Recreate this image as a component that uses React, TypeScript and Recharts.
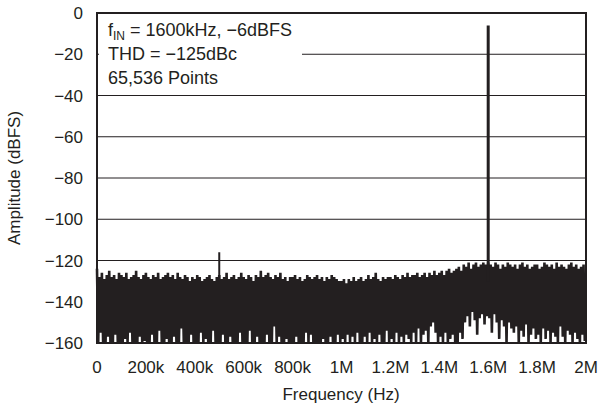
import React from "react";
import {
  CartesianGrid,
  ComposedChart,
  Line,
  ReferenceArea,
  XAxis,
  YAxis,
} from "recharts";

// FFT noise floor, one bin per 10kHz (top of each bin, then the dip within it)
const binStep = 10000;

const noiseTops = [
  -124, -128, -126, -129, -127, -125, -128, -127, -129, -126,
  -127, -128, -126, -129, -128, -127, -125, -128, -129, -127,
  -126, -128, -129, -127, -128, -126, -129, -128, -127, -126,
  -128, -127, -129, -126, -128, -129, -127, -128, -130, -128,
  -129, -127, -128, -130, -129, -128, -127, -129, -130, -128,
  -127, -129, -128, -126, -129, -128, -127, -129, -128, -126,
  -128, -129, -127, -128, -130, -127, -128, -125, -128, -127,
  -126, -128, -129, -127, -128, -126, -129, -128, -130, -128,
  -128, -127, -129, -128, -130, -129, -127, -128, -129, -128,
  -127, -129, -128, -130, -128, -129, -127, -128, -129, -130,
  -130, -129, -131, -129, -130, -128, -130, -129, -128, -130,
  -129, -127, -129, -128, -126, -129, -130, -128, -129, -128,
  -128, -129, -127, -128, -129, -127, -128, -126, -128, -127,
  -127, -126, -128, -127, -126, -128, -126, -127, -125, -127,
  -126, -125, -127, -125, -124, -126, -125, -124, -123, -125,
  -122, -123, -121, -124, -122, -121, -123, -122, -121, -122,
  -121, -122, -123, -121, -122, -124, -122, -123, -121, -122,
  -123, -122, -124, -122, -121, -123, -122, -124, -123, -122,
  -122, -124, -123, -121, -122, -123, -122, -124, -121, -123,
  -122, -123, -124, -122, -121, -123, -122, -124, -123, -122,
];

const noiseDips = [
  -160, -155, -160, -160, -157, -160, -160, -156, -160, -160,
  -160, -158, -160, -155, -160, -160, -160, -157, -160, -159,
  -160, -160, -156, -160, -160, -154, -160, -160, -158, -160,
  -160, -157, -160, -160, -153, -160, -160, -160, -156, -160,
  -160, -160, -155, -160, -158, -160, -160, -154, -160, -160,
  -160, -156, -160, -160, -157, -160, -160, -160, -155, -160,
  -160, -160, -154, -160, -160, -157, -160, -160, -160, -156,
  -160, -160, -152, -160, -157, -160, -160, -158, -160, -160,
  -160, -157, -160, -160, -160, -155, -160, -156, -160, -160,
  -160, -160, -158, -160, -160, -157, -160, -160, -156, -160,
  -158, -160, -156, -160, -157, -160, -155, -160, -160, -157,
  -160, -155, -160, -158, -160, -156, -160, -160, -154, -160,
  -158, -160, -155, -160, -157, -160, -156, -158, -160, -155,
  -160, -153, -160, -156, -154, -160, -152, -150, -155, -160,
  -157, -160, -155, -160, -158, -156, -160, -160, -155, -158,
  -150, -147, -152, -145, -149, -156, -148, -146, -151, -147,
  -148, -155, -146, -150, -158, -149, -152, -160, -150, -153,
  -155, -152, -160, -154, -157, -151, -160, -156, -153, -158,
  -156, -160, -153, -158, -154, -160, -155, -157, -160, -152,
  -157, -160, -154, -156, -160, -155, -158, -160, -156, -159,
];

// fundamental and the one visible spur
const fundamental = { f: 1600000, amp: -6 };
const spur = { f: 500000, amp: -116 };

const xTicks = [0, 200000, 400000, 600000, 800000, 1000000, 1200000, 1400000, 1600000, 1800000, 2000000];
const xTickLabels = ["0", "200k", "400k", "600k", "800k", "1M", "1.2M", "1.4M", "1.6M", "1.8M", "2M"];
const yTicks = [0, -20, -40, -60, -80, -100, -120, -140, -160];
const yTickLabels = ["0", "\u221220", "\u221240", "\u221260", "\u221280", "\u2212100", "\u2212120", "\u2212140", "\u2212160"];

const noise: { f: number; amp: number }[] = [];
noiseTops.forEach((top, i) => {
  noise.push({ f: i * binStep, amp: top });
  noise.push({ f: i * binStep + binStep / 2, amp: noiseDips[i] });
});

const ink = "#231f20";
const font = "'Liberation Sans', Arial, sans-serif";
const fs = 17;

export default function App() {
  return (
    <div
      style={{
        position: "absolute",
        left: 0,
        top: 0,
        width: 602,
        height: 414,
        background: "#fff",
        fontFamily: font,
        color: ink,
      }}
    >
      <ComposedChart
        width={602}
        height={414}
        margin={{ top: 13, right: 16, bottom: 0, left: 0 }}
      >
        <CartesianGrid vertical={false} stroke={ink} strokeWidth={1} />
        <XAxis
          type="number"
          dataKey="f"
          domain={[0, 2000000]}
          ticks={xTicks}
          tickFormatter={(v) => xTickLabels[xTicks.indexOf(v)] ?? ""}
          height={71}
          tickLine={false}
          axisLine={false}
          tickSize={0}
          tickMargin={18}
          tick={{ fill: ink, fontSize: fs, fontFamily: font }}
          interval={0}
        />
        <YAxis
          type="number"
          domain={[-160, 0]}
          ticks={yTicks}
          tickFormatter={(v) => yTickLabels[yTicks.indexOf(v)] ?? ""}
          width={97}
          tickLine={false}
          axisLine={false}
          tickSize={0}
          tickMargin={14}
          tick={{ fill: ink, fontSize: fs, fontFamily: font }}
          interval={0}
        />
        <Line
          data={noise}
          dataKey="amp"
          stroke={ink}
          strokeWidth={2.6}
          strokeLinejoin="bevel"
          dot={false}
          isAnimationActive={false}
        />
        <Line
          data={[{ f: spur.f, amp: -130 }, spur]}
          dataKey="amp"
          stroke={ink}
          strokeWidth={2}
          dot={false}
          isAnimationActive={false}
        />
        <Line
          data={[{ f: fundamental.f, amp: -130 }, fundamental]}
          dataKey="amp"
          stroke={ink}
          strokeWidth={3}
          dot={false}
          isAnimationActive={false}
        />
        <ReferenceArea
          x1={0}
          x2={2000000}
          y1={-160}
          y2={0}
          fill="none"
          stroke={ink}
          strokeWidth={2}
          ifOverflow="visible"
        />
      </ComposedChart>

      <div
        style={{
          position: "absolute",
          left: 99,
          top: 15,
          width: 203,
          height: 77,
          background: "#fff",
          fontSize: 18,
          lineHeight: "24px",
          paddingLeft: 9,
          paddingTop: 3,
          boxSizing: "border-box",
          whiteSpace: "nowrap",
        }}
      >
        <div>
          f<sub style={{ fontSize: 12, verticalAlign: "-4px", lineHeight: 0 }}>IN</sub> = 1600kHz, {"\u2212"}6dBFS
        </div>
        <div>THD = {"\u2212"}125dBc</div>
        <div>65,536 Points</div>
      </div>

      <div
        style={{
          position: "absolute",
          left: 15,
          top: 178,
          fontSize: fs,
          whiteSpace: "nowrap",
          transform: "translate(-50%, -50%) rotate(-90deg)",
        }}
      >
        Amplitude (dBFS)
      </div>
      <div
        style={{
          position: "absolute",
          left: 341,
          top: 395,
          fontSize: fs,
          whiteSpace: "nowrap",
          transform: "translate(-50%, -50%)",
        }}
      >
        Frequency (Hz)
      </div>
    </div>
  );
}
